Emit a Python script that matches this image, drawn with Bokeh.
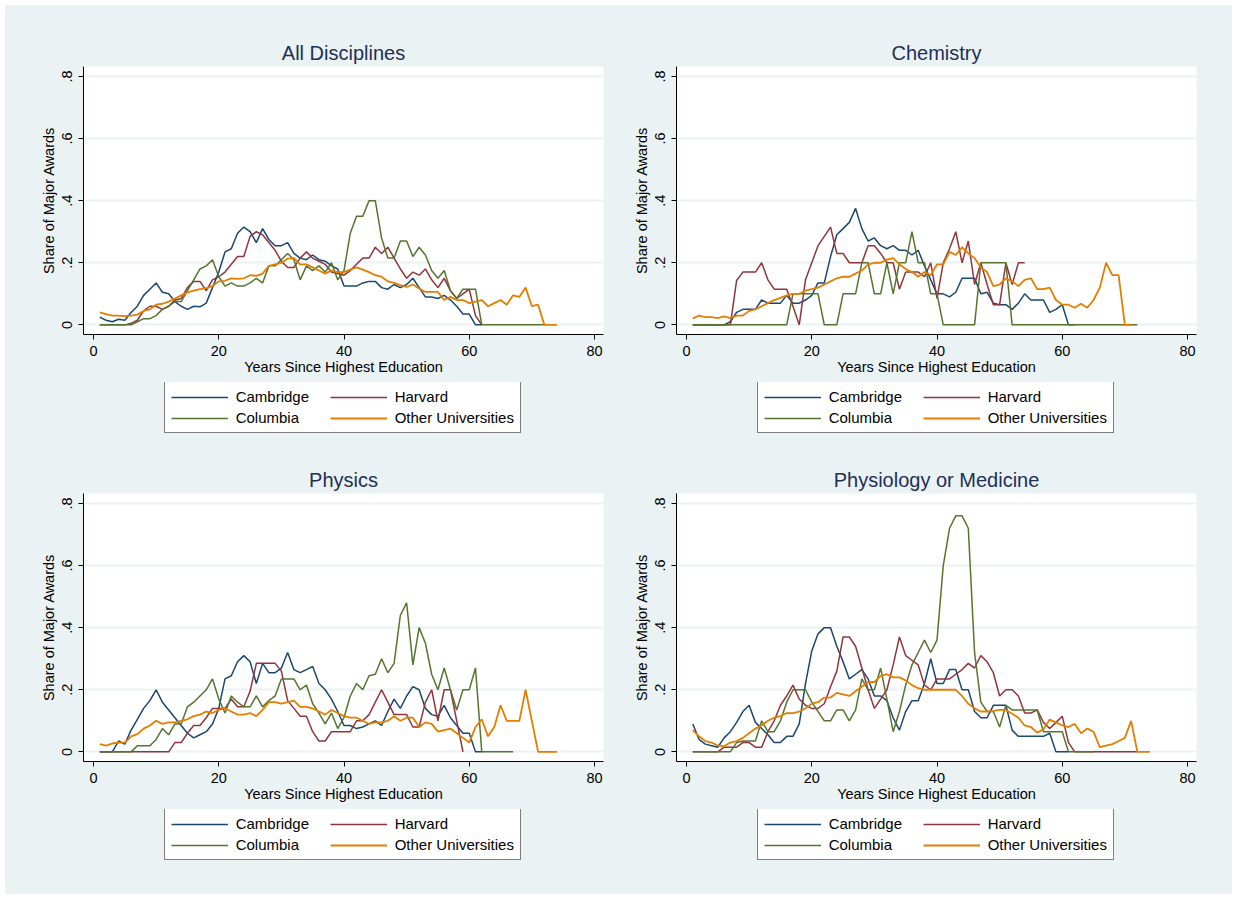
from bokeh.plotting import figure
from bokeh.models import Range1d, FixedTicker, Legend, LegendItem
from bokeh.layouts import column, row
from bokeh.embed import file_html
from bokeh.resources import INLINE

SERIES_NAMES = ["Cambridge", "Harvard", "Columbia", "Other Universities"]
SERIES_COLORS = ["#1A476F", "#90353B", "#55752F", "#E37E00"]
PANEL_TITLES = ["All Disciplines", "Chemistry", "Physics", "Physiology or Medicine"]
X_TICKS = [0, 20, 40, 60, 80]
Y_TICKS = [0, 0.2, 0.4, 0.6, 0.8]
Y_TICK_LABELS = ["0", ".2", ".4", ".6", ".8"]
X_LABEL = "Years Since Highest Education"
Y_LABEL = "Share of Major Awards"

# values for years 1, 2, 3, ... (one value per year)
ALL_CAMBRIDGE = [.025, .015, .01, .018, .015, .04, .06, .095, .115, .135, .105, .10, .075, .06, .05, .06, .058, .07, .12, .17,
                 .235, .245, .295, .315, .30, .265, .31, .275, .255, .255, .265, .23, .215, .21, .225, .21, .205, .19, .18, .125,
                 .125, .125, .135, .14, .14, .12, .115, .13, .12, .13, .15, .12, .09, .09, .085, .095, .08, .06, .035, .035,
                 0, 0]
ALL_HARVARD = [0, 0, 0, 0, 0, .005, .015, .045, .06, .06, .05, .06, .08, .085, .12, .14, .14, .11, .145, .155,
               .17, .195, .22, .22, .285, .30, .29, .265, .24, .205, .185, .185, .215, .235, .215, .205, .195, .17, .165, .16,
               .175, .195, .215, .215, .25, .23, .25, .215, .18, .15, .17, .16, .18, .145, .12, .15, .11, .085, .1, .115,
               .03, 0]
ALL_COLUMBIA = [0, 0, 0, 0, 0, 0, .01, .02, .02, .03, .05, .06, .075, .075, .11, .145, .18, .19, .21, .155,
                .125, .135, .125, .125, .135, .15, .135, .19, .19, .21, .23, .21, .145, .19, .175, .19, .17, .2, .145, .175,
                .295, .35, .35, .40, .40, .28, .215, .215, .27, .27, .22, .25, .225, .175, .15, .175, .11, .085, .115, .115,
                .115, 0, 0, 0, 0, 0, 0, 0, 0, 0, 0, 0]
ALL_OTHER = [.04, .035, .03, .03, .028, .03, .033, .045, .05, .065, .068, .075, .085, .095, .105, .11, .115, .118, .125, .14,
             .142, .15, .148, .15, .16, .158, .165, .19, .195, .2, .213, .215, .195, .195, .185, .175, .165, .175, .17, .17,
             .178, .185, .178, .17, .16, .155, .14, .135, .128, .122, .13, .117, .106, .106, .106, .08, .09, .08, .08, .07,
             .075, .08, .06, .07, .08, .065, .095, .09, .12, .06, .065, 0, 0, 0]

CHEM_CAMBRIDGE = [0, 0, 0, 0, 0, 0, .01, .04, .05, .05, .05, .08, .07, .07, .07, .095, .07, .07, .08, .095,
                  .135, .135, .22, .29, .31, .33, .375, .31, .27, .28, .255, .245, .255, .24, .24, .225, .24, .19, .145, .1,
                  .1, .09, .105, .15, .15, .15, .1, .105, .07, .065, .065, .05, .07, .1, .08, .08, .08, .04, .05, .065,
                  0, 0]
CHEM_HARVARD = [0, 0, 0, 0, 0, 0, 0, .143, .17, .17, .17, .2, .145, .115, .115, .115, .06, 0, .145, .2,
                .255, .285, .315, .23, .23, .2, .2, .2, .255, .255, .23, .2, .2, .115, .17, .17, .17, .155, .2, .085,
                .2, .245, .3, .2, .27, .13, .2, .13, .065, .065, .2, .13, .2, .2]
CHEM_COLUMBIA = [0, 0, 0, 0, 0, 0, 0, 0, 0, 0, 0, 0, 0, 0, 0, 0, .1, .1, .1, .1,
                 .1, 0, 0, 0, .1, .1, .1, .2, .2, .1, .1, .2, .1, .2, .2, .3, .2, .2, .1, .1,
                 0, 0, 0, 0, 0, 0, .2, .2, .2, .2, .2, 0, 0, 0, 0, 0, 0, 0, 0, 0,
                 0, 0, 0, 0, 0, 0, 0, 0, 0, 0, 0, 0]
CHEM_OTHER = [.02, .03, .025, .025, .022, .027, .022, .03, .03, .045, .05, .06, .07, .08, .087, .095, .1, .1, .11, .115,
              .12, .13, .14, .15, .155, .155, .165, .175, .195, .2, .2, .21, .215, .195, .18, .17, .155, .17, .16, .195,
              .195, .235, .225, .25, .23, .215, .185, .17, .125, .13, .15, .14, .125, .145, .15, .115, .115, .12, .08, .065,
              .065, .055, .068, .055, .08, .12, .2, .16, .16, 0, 0]

PHYS_CAMBRIDGE = [0, 0, 0, .035, .025, .07, .105, .14, .165, .2, .16, .135, .11, .085, .06, .045, .055, .065, .09, .14,
                  .235, .245, .29, .31, .29, .22, .285, .255, .255, .27, .32, .265, .255, .265, .275, .22, .2, .17, .13, .085,
                  .085, .075, .08, .09, .1, .085, .13, .17, .14, .18, .21, .2, .14, .12, .115, .15, .11, .085, .06, .06,
                  0, 0]
PHYS_HARVARD = [0, 0, 0, 0, 0, 0, 0, 0, 0, 0, 0, 0, .03, .03, .06, .085, .085, .11, .14, .14,
                .14, .17, .145, .145, .195, .285, .285, .285, .285, .26, .165, .14, .115, .115, .065, .035, .035, .065, .065, .065,
                .065, .1, .1, .12, .16, .2, .16, .12, .12, .12, .08, .08, .16, .2, .1, .2, .2, .1, 0]
PHYS_COLUMBIA = [0, 0, 0, 0, 0, 0, .02, .02, .02, .04, .075, .055, .09, .09, .145, .16, .18, .2, .235, .17,
                 .125, .18, .16, .145, .145, .18, .145, .165, .18, .235, .235, .235, .2, .215, .155, .125, .09, .125, .075, .11,
                 .18, .22, .2, .245, .25, .3, .255, .285, .44, .48, .28, .4, .35, .25, .2, .27, .2, .135, .2, .2,
                 .27, 0, 0, 0, 0, 0, 0]
PHYS_OTHER = [.025, .02, .027, .03, .03, .05, .057, .075, .085, .1, .09, .095, .095, .1, .105, .115, .12, .13, .125, .135,
              .14, .13, .12, .12, .125, .115, .135, .16, .16, .155, .16, .165, .145, .145, .14, .13, .12, .135, .125, .115,
              .11, .11, .1, .09, .095, .095, .1, .115, .1, .11, .11, .08, .095, .09, .065, .07, .075, .06, .045, .03,
              .08, .105, .05, .08, .15, .1, .1, .1, .2, .1, 0, 0, 0, 0]

MED_CAMBRIDGE = [.09, .04, .025, .02, .015, .045, .065, .095, .13, .15, .095, .075, .055, .03, .03, .05, .05, .09, .22, .325,
                 .38, .4, .4, .34, .29, .235, .25, .265, .235, .18, .18, .165, .11, .07, .13, .165, .165, .22, .3, .22,
                 .22, .265, .265, .2, .2, .13, .11, .11, .15, .15, .15, .07, .05, .05, .05, .05, .05, .06, 0, 0,
                 0]
MED_HARVARD = [0, 0, 0, 0, 0, .015, .015, .015, .03, .03, .015, .015, .065, .1, .15, .18, .215, .17, .15, .14,
               .14, .155, .21, .26, .37, .37, .34, .27, .2, .14, .17, .2, .28, .37, .31, .295, .28, .215, .2, .235,
               .235, .235, .25, .265, .285, .27, .31, .29, .255, .18, .2, .2, .18, .125, .125, .135, .095, .075, .095, .115,
               .03, 0, 0, 0, 0, 0, 0, 0, 0, 0, 0, 0]
MED_COLUMBIA = [0, 0, 0, 0, 0, 0, 0, .03, .035, .035, .035, .1, .065, .065, .1, .16, .2, .2, .2, .16,
                .13, .1, .1, .135, .135, .1, .135, .235, .2, .2, .27, .17, .065, .13, .215, .28, .32, .36, .32, .36,
                .6, .72, .76, .76, .72, .32, .16, .13, .13, .08, .15, .135, .135, .135, .135, .135, .065, .065, .065, .065,
                0, 0, 0, 0, 0]
MED_OTHER = [.07, .05, .035, .03, .02, .018, .03, .035, .045, .06, .075, .085, .1, .11, .115, .125, .125, .13, .14, .155,
             .16, .175, .175, .19, .185, .18, .195, .21, .225, .225, .245, .25, .24, .24, .23, .215, .205, .2, .2, .2,
             .2, .2, .2, .18, .155, .14, .13, .13, .132, .135, .135, .123, .11, .085, .08, .062, .073, .104, .095, .085,
             .08, .09, .06, .075, .065, .015, .02, .025, .035, .045, .1, 0, 0, 0]

PANEL_DATA = [
    [ALL_CAMBRIDGE, ALL_HARVARD, ALL_COLUMBIA, ALL_OTHER],
    [CHEM_CAMBRIDGE, CHEM_HARVARD, CHEM_COLUMBIA, CHEM_OTHER],
    [PHYS_CAMBRIDGE, PHYS_HARVARD, PHYS_COLUMBIA, PHYS_OTHER],
    [MED_CAMBRIDGE, MED_HARVARD, MED_COLUMBIA, MED_OTHER],
]

BG = "#EAF2F3"
FONT = "Liberation Sans"
FRAME_W, FRAME_H = 520, 268
AXIS_AREA = 48


def line_width(color):
    return 1.8 if color == "#E37E00" else 1.5


def make_panel(title, series, b_left, b_right, b_top, legend_h):
    width = b_left + FRAME_W + b_right
    p = figure(width=width, height=b_top + FRAME_H + AXIS_AREA,
               x_range=Range1d(-1.6, 81.44), y_range=Range1d(-0.031, 0.832),
               output_backend="svg", toolbar_location=None,
               min_border_left=b_left, min_border_right=b_right,
               min_border_top=b_top, min_border_bottom=AXIS_AREA)
    p.background_fill_color = "white"
    p.border_fill_color = BG
    p.outline_line_color = None

    p.title.text = title
    p.title.align = "center"
    p.title.text_font = FONT
    p.title.text_font_size = "20px"
    p.title.text_font_style = "normal"
    p.title.text_color = "#1F2F57"
    p.title.standoff = 5

    p.xgrid.visible = False
    p.ygrid.ticker = FixedTicker(ticks=Y_TICKS)
    p.ygrid.grid_line_color = BG
    p.ygrid.grid_line_width = 2

    xa = p.xaxis[0]
    xa.ticker = FixedTicker(ticks=X_TICKS)
    xa.axis_label = X_LABEL
    ya = p.yaxis[0]
    ya.ticker = FixedTicker(ticks=Y_TICKS)
    ya.axis_label = Y_LABEL
    ya.major_label_overrides = {t: s for t, s in zip(Y_TICKS, Y_TICK_LABELS)}
    ya.major_label_orientation = "vertical"
    for ax in (xa, ya):
        ax.axis_line_color = "black"
        ax.axis_line_width = 1
        ax.major_tick_line_color = "black"
        ax.major_tick_out = 5
        ax.major_tick_in = 0
        ax.minor_tick_line_color = None
        ax.major_label_text_font = FONT
        ax.major_label_text_font_size = "14.5px"
        ax.major_label_text_color = "black"
        ax.axis_label_text_font = FONT
        ax.axis_label_text_font_size = "14.5px"
        ax.axis_label_text_font_style = "normal"
        ax.axis_label_text_color = "black"
    xa.major_label_standoff = 6
    xa.axis_label_standoff = 0
    ya.major_label_standoff = 6
    ya.axis_label_standoff = 3

    for vals, color in zip(series, SERIES_COLORS):
        years = list(range(1, len(vals) + 1))
        p.line(years, vals, line_color=color, line_width=line_width(color))

    # legend strip below the plot (its frame is aligned with the plot frame)
    lg = figure(width=width, height=legend_h, x_range=Range1d(0, 1), y_range=Range1d(0, 1),
                x_axis_type=None, y_axis_type=None,
                output_backend="svg", toolbar_location=None,
                min_border=0, min_border_left=0, min_border_right=0,
                min_border_top=0, min_border_bottom=0)
    lg.background_fill_color = BG
    lg.border_fill_color = BG
    lg.outline_line_color = None
    lg.grid.visible = False
    rs = [lg.line([-5, -4], [-5, -4], line_color=c, line_width=line_width(c)) for c in SERIES_COLORS]
    items = [LegendItem(label=SERIES_NAMES[i], renderers=[rs[i]]) for i in (0, 2, 1, 3)]
    legend = Legend(items=items, orientation="vertical", nrows=2,
                    location=(80.7, legend_h - 51),
                    border_line_color="black", border_line_width=1,
                    background_fill_color="white", background_fill_alpha=1,
                    label_text_font=FONT, label_text_font_size="15px", label_text_color="black",
                    glyph_width=57, glyph_height=16, label_height=16, label_width=90,
                    label_standoff=8, spacing=4, padding=6, margin=0)
    lg.add_layout(legend, "center")
    return column(p, lg, spacing=0, styles={"background-color": BG})


c1 = make_panel(PANEL_TITLES[0], PANEL_DATA[0], 78, 2, 61, 74)
c2 = make_panel(PANEL_TITLES[1], PANEL_DATA[1], 71, 36, 61, 74)
c3 = make_panel(PANEL_TITLES[2], PANEL_DATA[2], 78, 2, 37, 85)
c4 = make_panel(PANEL_TITLES[3], PANEL_DATA[3], 71, 36, 37, 85)

layout = column(row(c1, c2, spacing=0, styles={"background-color": BG}),
                row(c3, c4, spacing=0, styles={"background-color": BG}),
                spacing=0, margin=(5, 0, 0, 5), styles={"background-color": BG})

open("out.html", "w").write(file_html(layout, INLINE))
